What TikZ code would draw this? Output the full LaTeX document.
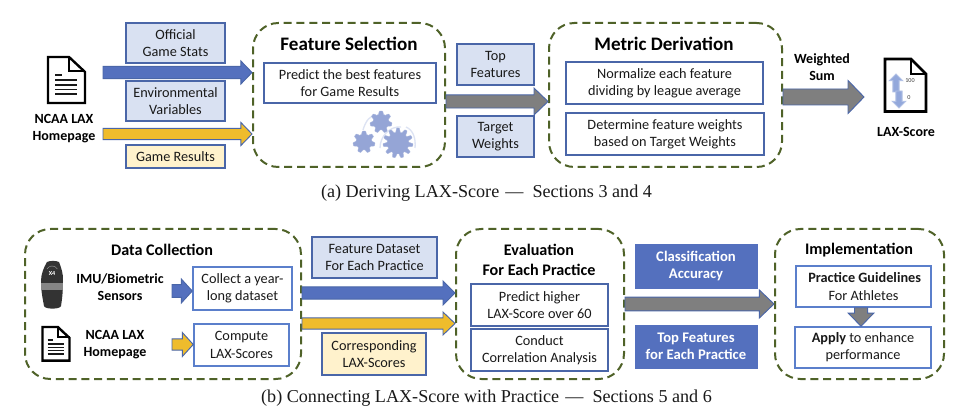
\documentclass[tikz,border=0pt]{standalone}
\usepackage{fontspec}
\setmainfont{Carlito}
\newfontfamily\capfont{Liberation Serif}
\usetikzlibrary{calc}
\definecolor{dashgreen}{HTML}{4F6228}
\definecolor{boxblue}{HTML}{4A66A8}
\definecolor{litblue}{HTML}{5B7FCB}
\definecolor{paleblue}{HTML}{D9E1F2}
\definecolor{palegold}{HTML}{FFF2CC}
\definecolor{arblue}{HTML}{5470BE}
\definecolor{argold}{HTML}{EFBC2C}
\definecolor{argray}{HTML}{7F7F7F}
\definecolor{gearblue}{HTML}{95A5D6}
\definecolor{gearlite}{HTML}{DDE3F3}
\definecolor{iconblue}{HTML}{93A8DB}
\tikzset{
  x=0.75pt,y=-0.75pt,
  basebox/.style={inner sep=0pt,align=center,font=\fontsize{10.7}{12.9}\selectfont,text=black!90},
  whitebox/.style={basebox,draw=boxblue,line width=1pt,fill=white},
  litebox/.style={basebox,draw=litblue,line width=1.1pt,fill=white},
  bluebox/.style={basebox,draw=boxblue,line width=1pt,fill=paleblue},
  goldbox/.style={basebox,draw=boxblue,line width=1pt,fill=palegold},
  solidbox/.style={basebox,draw=arblue,line width=.5pt,fill=arblue,text=white,font=\fontsize{11}{12.9}\selectfont\bfseries},
  groupbox/.style={inner sep=0pt,draw=dashgreen,line width=1.5pt,rounded corners=19pt,dash pattern=on 6pt off 3.6pt},
  title/.style={inner sep=0pt,align=center,font=\fontsize{14.3}{17}\selectfont\bfseries,text=black},
  subtitle/.style={inner sep=0pt,align=center,font=\fontsize{12.1}{15}\selectfont\bfseries,text=black},
  label/.style={inner sep=0pt,align=center,font=\fontsize{10.5}{12.8}\selectfont\bfseries,text=black},
  tiny/.style={inner sep=0pt,font=\fontsize{4.6}{5}\selectfont,text=black!75},
  captext/.style={inner sep=0pt,font=\capfont\fontsize{13.6}{15}\selectfont,text=black!90},
  docicon/.pic={
    \draw[line width=1.8pt,black,line join=miter,fill=white] (0,0) -- (21,0) -- (37,15) -- (37,46) -- (0,46) -- cycle;
    \draw[line width=1.8pt,black,line join=miter] (21,0) -- (21,14) -- (37,14);
    \draw[line width=1.1pt,black!90] (7,18) -- (14,18) (7,23) -- (29,23) (7,28) -- (29,28) (7,32.5) -- (29,32.5) (7,37) -- (29,37);
  }
}
\newcommand\bx[7][]{%
  \pgfmathsetmacro\bxcx{(#3+#5)/2}\pgfmathsetmacro\bxcy{(#4+#6)/2}%
  \pgfmathsetmacro\bxw{(#5-#3)*0.75}\pgfmathsetmacro\bxh{(#6-#4)*0.75}%
  \node[#1,minimum width=\bxw pt,minimum height=\bxh pt] (#2) at (\bxcx,\bxcy) {#7};}
% fill, from, to, half body, half head, head length (pt)
\newcommand\fatarrow[7][boxblue]{%
  \path ($(#4)!#7pt!(#3)$) coordinate (fh);
  \draw[draw=#1,line width=.7pt,line join=miter,fill=#2]
    ($(#3)!#5pt!90:(#4)$) -- ($(fh)!#5pt!90:(#4)$) -- ($(fh)!#6pt!90:(#4)$) -- (#4)
    -- ($(fh)!#6pt!-90:(#4)$) -- ($(fh)!#5pt!-90:(#4)$) -- ($(#3)!#5pt!-90:(#4)$) -- cycle;}
\newcommand\gear[4]{% cx cy R teeth
  \fill[gearblue,draw=gearblue!80!white,line width=.3pt,shift={(#1,#2)}]
    plot[domain=0:360,samples=121] (\x:{#3*(0.86+0.14*max(-1,min(1,1.8*sin(#4*\x))))}) -- cycle;}
\begin{document}
\begin{tikzpicture}
\useasboundingbox (0,0) rectangle (963,416);
\fill[white] (0,0) rectangle (963,416);

% ---------- top row ----------
\bx[groupbox]{fs}{253}{23}{445}{167}{}
\bx[groupbox]{md}{549}{23}{782}{167}{}
\pic at (48,57) {docicon};
\node[label] (ncaa1) at (64,128.5) {NCAA LAX\\Homepage};
\bx[bluebox]{ogs}{126}{23}{225}{63}{Official\\Game Stats}
\bx[bluebox]{env}{126}{81}{225}{121}{Environmental\\Variables}
\bx[goldbox]{gr}{126}{145}{225}{168}{Game Results}
\node[title] (fst) at (349,44) {Feature Selection};
\bx[whitebox]{pred}{264}{63}{436}{103}{Predict the best features\\for Game Results}
\bx[bluebox]{tf}{457}{44}{534}{85}{Top\\Features}
\bx[bluebox]{tw}{457}{116}{534}{157}{Target\\Weights}
\node[title] (mdt) at (664,44) {Metric Derivation};
\bx[whitebox]{norm}{566}{62}{763}{104}{Normalize each feature\\dividing by league average}
\bx[whitebox]{det}{566}{113}{764}{155}{Determine feature weights\\based on Target Weights}
\node[label] (ws) at (822,67.5) {Weighted\\Sum};
\node[label] (lax) at (906,132) {LAX-Score};

\coordinate (a1s) at (103,72.5);
\coordinate (a2s) at (103,134);
\path (fs.west|-a1s) coordinate (a1e);
\path (fs.west|-a2s) coordinate (a2e);
\fatarrow{arblue}{a1s}{a1e}{4.6}{8.6}{8.3}
\fatarrow{argold}{a2s}{a2e}{4.2}{8.6}{8.3}
\path (fs.east|-0,101.5) coordinate (a3s);
\path (md.west|-0,101.5) coordinate (a3e);
\fatarrow{argray}{a3s}{a3e}{4.9}{10.1}{10.5}
\path (md.east|-0,97) coordinate (a4s);
\coordinate (a4e) at (864,97);
\fatarrow{argray}{a4s}{a4e}{6}{12.4}{12}

% gears
\draw[gearlite,line width=1pt] (363,130) .. controls (366,120) and (370,116) .. (376,115);
\draw[gearlite,line width=1pt] (380,148) .. controls (380,136) and (390,126) .. (401,127);
\draw[gearlite,line width=1pt] (406,127) .. controls (413,130) and (416,138) .. (415,148);
\gear{381}{122}{11}{7}
\gear{364}{142}{11}{7}
\gear{398}{143}{15}{11}

% score document
\draw[line width=1.9pt,black,line join=miter,fill=white] (885,59) -- (911,59) -- (926,74) -- (926,111.5) -- (885,111.5) -- cycle;
\draw[line width=1.9pt,black,line join=miter] (911,59) -- (911,74) -- (926,74);
\coordinate (ua) at (896,92);
\coordinate (ub) at (896,74);
\coordinate (da) at (899,91);
\coordinate (db) at (899,108);
\fatarrow[iconblue!70!white]{iconblue}{ua}{ub}{2.4}{5}{5}
\fatarrow[iconblue!70!white]{iconblue}{da}{db}{2.4}{5}{5}
\node[tiny] (n100) at (910,81) {100};
\node[tiny] (n0) at (909,97.5) {0};

\node[captext] (capa) at (486.5,193) {(a) Deriving LAX-Score\,\,—\,\,\,Sections 3 and 4};

% ---------- bottom row ----------
\bx[groupbox]{dc}{25}{229}{301}{379}{}
\bx[groupbox]{ev}{456}{229}{624}{379}{}
\bx[groupbox]{im}{775}{229}{944}{379}{}
\node[subtitle] (dct) at (162,250) {Data Collection};
% sensor
\fill[black!80] (47,262) .. controls (50,260.5) and (56,260.5) .. (59,262) .. controls (61,267) and (63.5,274) .. (63,281)
  .. controls (63,292) and (62,300) .. (61,306) .. controls (60,309.5) and (45,309.5) .. (44,306)
  .. controls (43,300) and (41,292) .. (41,281) .. controls (41,274) and (44,267) .. (47,262) -- cycle;
\fill[black!48] (41,283) rectangle (63,290);
\node[inner sep=0pt,font=\fontsize{4.6}{5}\selectfont\bfseries,text=white] (xf) at (52,274) {X4};
\draw[black!35,line width=.3pt] (47,269) arc (210:330:6);
\node[label] (imu) at (120,287) {IMU/Biometric\\Sensors};
\bx[litebox]{coll}{193}{267}{292}{310}{Collect a year-\\long dataset}
\pic[scale=.73] at (42.5,327) {docicon};
\node[label] (ncaa2) at (115,344.5) {NCAA LAX\\Homepage};
\bx[litebox]{comp}{194}{324}{289}{366}{Compute\\LAX-Scores}
\coordinate (b1s) at (172,291);
\path (coll.west|-b1s) coordinate (b1e);
\fatarrow{arblue}{b1s}{b1e}{4.8}{9}{8.2}
\coordinate (b2s) at (172,344.5);
\path (comp.west|-b2s) coordinate (b2e);
\fatarrow{argold}{b2s}{b2e}{4.2}{9}{8.2}

\bx[bluebox]{fd}{312}{237}{437}{278}{Feature Dataset\\For Each Practice}
\bx[goldbox]{cl}{322}{333}{426}{375}{Corresponding\\LAX-Scores}
\path (dc.east|-0,293) coordinate (b3s);
\path (ev.west|-0,293) coordinate (b3e);
\fatarrow{arblue}{b3s}{b3e}{4.6}{9}{9}
\path (dc.east|-0,323.5) coordinate (b4s);
\path (ev.west|-0,323.5) coordinate (b4e);
\fatarrow{argold}{b4s}{b4e}{4.2}{8.6}{9}

\node[subtitle] (evt) at (539,260) {Evaluation\\For Each Practice};
\bx[whitebox]{ph}{471}{284}{608}{326}{Predict higher\\LAX-Score over 60}
\bx[whitebox]{cc}{471}{329}{608}{371}{Conduct\\Correlation Analysis}
\bx[solidbox]{ca}{635}{244}{757}{288}{Classification\\Accuracy}
\bx[solidbox]{tfp}{635}{325}{757}{368}{Top Features\\for Each Practice}
\path (ev.east|-0,304) coordinate (b5s);
\path (im.west|-0,304) coordinate (b5e);
\fatarrow{argray}{b5s}{b5e}{5.2}{10.5}{11}

\node[subtitle] (imt) at (859,250) {Implementation};
\bx[litebox]{pg}{796}{266}{931}{307}{\textbf{\,Practice Guidelines}\\For Athletes}
\bx[litebox]{ap}{795}{327}{931}{368}{\textbf{Apply} to enhance\\performance}
\path (pg.south-|861,0) coordinate (b6s);
\path (ap.north-|861,0) coordinate (b6e);
\fatarrow{argray}{b6s}{b6e}{4.9}{9.5}{9.8}

\node[captext] (capb) at (486.5,398) {(b) Connecting LAX-Score with Practice\,\,—\,\,\,Sections 5 and 6};
\end{tikzpicture}
\end{document}
